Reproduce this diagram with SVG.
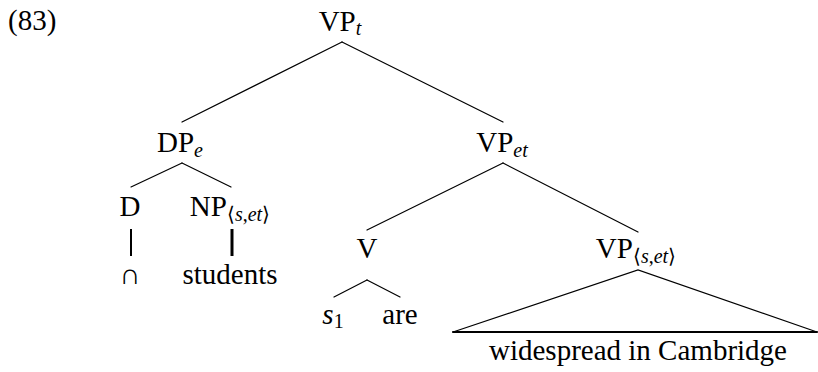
<svg xmlns="http://www.w3.org/2000/svg" width="818" height="372" viewBox="0 0 818 372">
<style>
text{font-family:"Liberation Serif","Times New Roman",serif}
</style>
<rect width="818" height="372" fill="#fff"/>
<g font-family="Liberation Serif" fill="#000" font-size="29" text-anchor="middle">
<text font-family="Liberation Serif" x="8" y="30" text-anchor="start">(83)</text>
<g id="n-vpt"><text font-family="Liberation Serif" x="340" y="31">VP<tspan font-size="20" font-style="italic" dy="4">t</tspan></text></g>
<g id="n-dpe"><text font-family="Liberation Serif" x="180" y="152">DP<tspan font-size="20" font-style="italic" dy="5">e</tspan></text></g>
<g id="n-vpet"><text font-family="Liberation Serif" x="502" y="152">VP<tspan font-size="20" font-style="italic" dy="5">et</tspan></text></g>
<g id="n-d"><text font-family="Liberation Serif" x="130" y="216">D</text></g>
<g id="n-np"><text font-family="Liberation Serif" x="230" y="216">NP<tspan font-size="20" dy="5">⟨<tspan font-style="italic">s</tspan>,<tspan font-style="italic">et</tspan>⟩</tspan></text></g>
<g id="n-v"><text font-family="Liberation Serif" x="367" y="258">V</text></g>
<g id="n-vpset"><text font-family="Liberation Serif" x="636" y="258">VP<tspan font-size="20" dy="5">⟨<tspan font-style="italic">s</tspan>,<tspan font-style="italic">et</tspan>⟩</tspan></text></g>
<g id="n-cap"><text font-family="Liberation Serif" x="130" y="284">∩</text></g>
<g id="n-students"><text font-family="Liberation Serif" x="230" y="284">students</text></g>
<g id="n-s1"><text font-family="Liberation Serif" x="333" y="324"><tspan font-style="italic">s</tspan><tspan font-size="20" dy="4">1</tspan></text></g>
<g id="n-are"><text font-family="Liberation Serif" x="400" y="324">are</text></g>
<g id="n-wic"><text font-family="Liberation Serif" x="638" y="360">widespread in Cambridge</text></g>
</g>
<g id="edges" stroke="#000" stroke-width="1.2" fill="none" stroke-linecap="round">
<line x1="342" y1="42" x2="182" y2="122"/>
<line x1="342" y1="42" x2="503" y2="122"/>
<line x1="182" y1="163" x2="131" y2="187"/>
<line x1="182" y1="163" x2="231" y2="187"/>
<line x1="503" y1="163" x2="367" y2="230"/>
<line x1="503" y1="163" x2="638" y2="232"/>
<line x1="131" y1="229" x2="131" y2="256" stroke-width="2" stroke-linecap="butt"/>
<line x1="232" y1="229" x2="232" y2="256" stroke-width="3" stroke-linecap="butt"/>
<line x1="367" y1="280" x2="334" y2="297"/>
<line x1="367" y1="280" x2="400" y2="297"/>
<path d="M453 332 L638 270 L817 332"/>
<line x1="453" y1="332" x2="817" y2="332" stroke-width="2"/>
</g>
</svg>
